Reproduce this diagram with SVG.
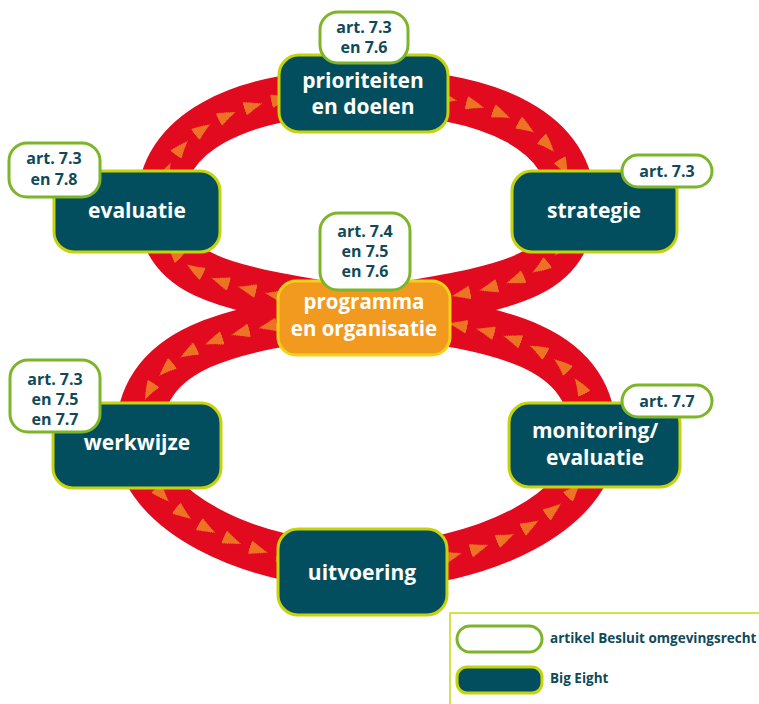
<svg xmlns="http://www.w3.org/2000/svg" xmlns:xlink="http://www.w3.org/1999/xlink" width="759" height="704" viewBox="0 0 759 704">
<style>
.band{fill:none;stroke:#e10a1e;stroke-width:46}
.ar{fill:none;stroke:#ee7326;stroke-linecap:butt}
.node{fill:#024e5e;stroke:#c6d30a;stroke-width:3}
.org{fill:#f29a1f;stroke:#f5d01a;stroke-width:3}
.art{fill:#ffffff;stroke:#7cb52a;stroke-width:3}
.nt{font-family:"Open Sans","Liberation Sans",sans-serif;font-weight:700;font-size:21px;fill:#ffffff;text-anchor:middle}
.at{font-family:"Open Sans","Liberation Sans",sans-serif;font-weight:700;font-size:16px;fill:#0f4a5a;text-anchor:middle}
.lt{font-family:"Open Sans","Liberation Sans",sans-serif;font-weight:700;font-size:13.5px;fill:#0f4a5a}
</style>
<defs>
<path id="eight" d="M366,311 C236,288 160,284 160,205 C160,135 235,92 366,92 C497,92 572,135 572,205 C572,284 496,288 366,311 C246,328 138,338 138,440 C138,510 250,566 366,566 C482,566 594,510 594,440 C594,338 486,328 366,311 Z"/>
</defs>
<g id="connectors">
<use xlink:href="#eight" class="band"/>
<use xlink:href="#eight" class="ar" stroke-width="13" stroke-dasharray="2 26"/>
<use xlink:href="#eight" class="ar" stroke-width="11.4" stroke-dasharray="4 24"/>
<use xlink:href="#eight" class="ar" stroke-width="9.9" stroke-dasharray="6 22"/>
<use xlink:href="#eight" class="ar" stroke-width="8.3" stroke-dasharray="8 20"/>
<use xlink:href="#eight" class="ar" stroke-width="6.8" stroke-dasharray="10 18"/>
<use xlink:href="#eight" class="ar" stroke-width="5.3" stroke-dasharray="12 16"/>
<use xlink:href="#eight" class="ar" stroke-width="3.8" stroke-dasharray="14 14"/>
<use xlink:href="#eight" class="ar" stroke-width="2.3" stroke-dasharray="16 12"/>
<use xlink:href="#eight" class="ar" stroke-width="0.8" stroke-dasharray="18 10"/>
</g>
<g id="prioriteiten">
<rect class="node" x="279" y="55" width="169" height="77" rx="20"/>
<text class="nt" x="363" y="88">prioriteiten</text>
<text class="nt" x="363" y="114">en doelen</text>
</g>
<g id="art-prioriteiten">
<rect class="art" x="320" y="12" width="88" height="51" rx="18"/>
<text class="at" x="364" y="33">art. 7.3</text>
<text class="at" x="364" y="53">en 7.6</text>
</g>
<g id="evaluatie">
<rect class="node" x="54" y="171" width="166" height="81" rx="20"/>
<text class="nt" x="137" y="218">evaluatie</text>
</g>
<g id="art-evaluatie">
<rect class="art" x="9" y="143" width="91" height="54" rx="18"/>
<text class="at" x="54" y="164">art. 7.3</text>
<text class="at" x="54" y="185">en 7.8</text>
</g>
<g id="strategie">
<rect class="node" x="512" y="171" width="165" height="81" rx="20"/>
<text class="nt" x="594" y="218">strategie</text>
</g>
<g id="art-strategie">
<rect class="art" x="622" y="155" width="90" height="32" rx="16"/>
<text class="at" x="667" y="177">art. 7.3</text>
</g>
<g id="programma">
<rect class="org" x="278" y="281" width="172" height="74" rx="18"/>
<text class="nt" x="364" y="309" style="font-size:20.5px">programma</text>
<text class="nt" x="364" y="336" style="font-size:20.5px">en organisatie</text>
</g>
<g id="art-programma">
<rect class="art" x="320" y="213" width="90" height="77" rx="18"/>
<text class="at" x="365" y="237">art. 7.4</text>
<text class="at" x="365" y="257">en 7.5</text>
<text class="at" x="365" y="277">en 7.6</text>
</g>
<g id="werkwijze">
<rect class="node" x="53" y="403" width="168" height="85" rx="20"/>
<text class="nt" x="137" y="450">werkwijze</text>
</g>
<g id="art-werkwijze">
<rect class="art" x="10" y="360" width="90" height="72" rx="18"/>
<text class="at" x="55" y="385">art. 7.3</text>
<text class="at" x="55" y="405">en 7.5</text>
<text class="at" x="55" y="425">en 7.7</text>
</g>
<g id="monitoring">
<rect class="node" x="509" y="403" width="171" height="84" rx="20"/>
<text class="nt" x="595" y="438">monitoring/</text>
<text class="nt" x="595" y="465">evaluatie</text>
</g>
<g id="art-monitoring">
<rect class="art" x="622" y="385" width="90" height="32" rx="16"/>
<text class="at" x="667" y="407">art. 7.7</text>
</g>
<g id="uitvoering">
<rect class="node" x="278" y="529" width="169" height="86" rx="20"/>
<text class="nt" x="362" y="580">uitvoering</text>
</g>
<g id="legend">
<path d="M450,704 V613 H759" fill="none" stroke="#d7e14e" stroke-width="2"/>
<rect class="art" x="457" y="626" width="85" height="26" rx="13" stroke-width="2.5"/>
<text class="lt" x="550" y="643">artikel Besluit omgevingsrecht</text>
<rect class="node" x="457" y="667" width="85" height="26" rx="10" stroke-width="2.5"/>
<text class="lt" x="550" y="683">Big Eight</text>
</g>
</svg>
